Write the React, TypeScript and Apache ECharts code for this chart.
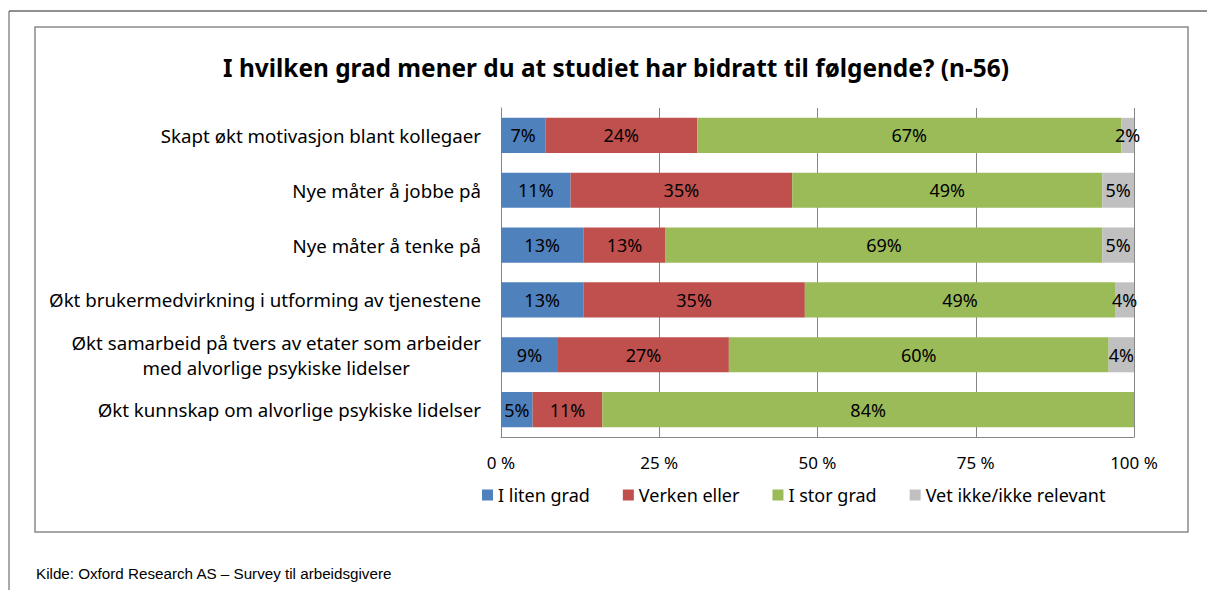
import React, { useEffect, useRef } from "react";
import * as echarts from "echarts";

const categories = [
  "Skapt økt motivasjon blant kollegaer",
  "Nye måter å jobbe på",
  "Nye måter å tenke på",
  "Økt brukermedvirkning i utforming av tjenestene",
  "Økt samarbeid på tvers av etater som arbeider\nmed alvorlige psykiske lidelser",
  "Økt kunnskap om alvorlige psykiske lidelser",
];
const seriesNames = ["I liten grad", "Verken eller", "I stor grad", "Vet ikke/ikke relevant"];
const lItenGrad = [7, 11, 13, 13, 9, 5];
const verkenEller = [24, 35, 13, 35, 27, 11];
const iStorGrad = [67, 49, 69, 49, 60, 84];
const vetIkke = [2, 5, 5, 4, 4, 0];
const ticks = [0, 25, 50, 75, 100];
const colors = ["#4F81BD", "#C0504D", "#9BBB59", "#C0C0C0"];

const FONT = "'Noto Sans', sans-serif";

export default function App() {
  const ref = useRef<HTMLDivElement>(null);
  useEffect(() => {
    if (!ref.current) return;
    const chart = echarts.init(ref.current, null, { renderer: "svg" });
    const data = [lItenGrad, verkenEller, iStorGrad, vetIkke];
    chart.setOption({
      animation: false,
      backgroundColor: "#fff",
      title: {
        text: "I hvilken grad mener du at studiet har bidratt til følgende? (n-56)",
        left: 611,
        textAlign: "center",
        top: 50,
        textStyle: { fontFamily: FONT, fontSize: 24.4, fontWeight: "bold", color: "#000" },
      },
      graphic: [
        { type: "line", shape: { x1: 9, y1: 11, x2: 1207, y2: 11 }, style: { stroke: "#222", lineWidth: 1 } },
        { type: "line", shape: { x1: 9, y1: 11, x2: 9, y2: 590 }, style: { stroke: "#555", lineWidth: 1 } },
        { type: "rect", shape: { x: 35, y: 27, width: 1153, height: 505 }, style: { fill: "none", stroke: "#8a8a8a", lineWidth: 1.5 } },
        {
          type: "text",
          left: 36,
          top: 566,
          style: {
            text: "Kilde: Oxford Research AS – Survey til arbeidsgivere",
            fontFamily: "'Liberation Sans', Arial, sans-serif",
            fontSize: 15.2,
            fill: "#000",
          },
        },
      ],
      legend: {
        left: 477,
        top: 481,
        itemWidth: 11,
        itemHeight: 11,
        itemGap: 33,
        icon: "rect",
        data: seriesNames,
        textStyle: { fontFamily: FONT, fontSize: 18, color: "#000" },
      },
      grid: { left: 501, right: 73, top: 108, bottom: 153, containLabel: false },
      xAxis: {
        type: "value",
        min: 0,
        max: 100,
        interval: 25,
        axisLine: { show: true, lineStyle: { color: "#868686" } },
        axisTick: { show: false },
        splitLine: { show: true, lineStyle: { color: "#868686", width: 1 } },
        axisLabel: {
          formatter: (v: number) => (ticks.includes(v) ? `${v} %` : ""),
          fontFamily: FONT,
          fontSize: 17,
          color: "#000",
          margin: 17,
        },
      },
      yAxis: {
        type: "category",
        data: categories,
        inverse: true,
        axisLine: { show: true, lineStyle: { color: "#868686" } },
        axisTick: { show: false },
        axisLabel: {
          fontFamily: FONT,
          fontSize: 18.7,
          color: "#000",
          margin: 20,
          lineHeight: 25,
          formatter: (v: string) =>
            v.includes("\n") ? v.split("\n").map((l) => `{c|${l}}`).join("\n") : v,
          rich: {
            c: { align: "center", fontFamily: FONT, fontSize: 18.7, color: "#000", lineHeight: 25 },
          },
        },
      },
      series: seriesNames.map((name, i) => ({
        name,
        type: "bar",
        stack: "total",
        barCategoryGap: "36%",
        itemStyle: { color: colors[i] },
        label: {
          show: true,
          position: "inside",
          formatter: (p: any) => (p.value > 0 ? `${p.value}%` : ""),
          fontFamily: FONT,
          fontSize: 18,
          color: "#000",
        },
        data: data[i],
      })),
    });
    return () => chart.dispose();
  }, []);
  return <div ref={ref} style={{ position: "absolute", left: 0, top: 0, width: 1207, height: 590 }} />;
}
